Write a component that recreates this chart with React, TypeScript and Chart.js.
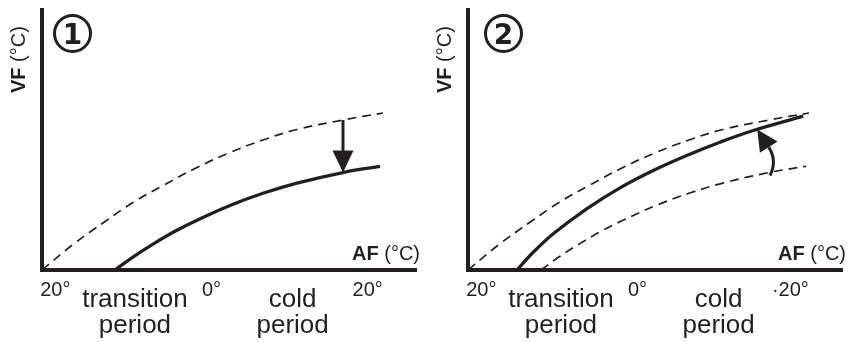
import React, { useEffect, useRef } from "react";
import { Chart, registerables } from "chart.js";

Chart.register(...registerables);

// AF = outdoor temperature (°C), VF = flow temperature (°C)
const upperCurveAF = [21.2, 17.23, 13.13, 9.55, 5.7, 1.35, -2.88, -7.1, -11.46, -17.35, -22.47];
const upperCurveVF = [20, 26.82, 32.96, 38.04, 42.59, 47.4, 51.41, 54.75, 57.56, 60.1, 61.97];

const lowerCurveAF = [11.85, 9.42, 6.98, 4.17, 1.35, -2.88, -7.1, -11.46, -17.35, -22.09];
const lowerCurveVF = [20, 23.66, 26.92, 30.34, 33.29, 37.24, 40.5, 43.23, 46.06, 47.72];

const raisedCurveAF = [14.92, 13.0, 10.28, 6.0, 1.73, -2.53, -6.81, -11.07, -15.34, -21.74];
const raisedCurveVF = [20, 24.41, 29.68, 36.36, 41.97, 46.6, 50.61, 54.16, 57.29, 61.11];

const afTicks = [20, 0, -20];
const afTickPrefixPanel1 = ["", "", ""];
const afTickPrefixPanel2 = ["", "", "·"];
const afTickDigits = ["20", "0", "20"];

const periodAF = [9.3, -10.9];
const periodLines = [
  ["transition", "period"],
  ["cold", "period"],
];

// arrow 1 (straight, down): AF, VF start -> tip
const arrow1AF = [-17.35, -17.35];
const arrow1VF = [60.1, 46.06];
// arrow 2 (curved, up): start, control, tip
const arrow2AF = [-17.48, -18.43, -15.85];
const arrow2VF = [45.26, 49.27, 57.56];

const AF_MIN = -26.7;
const AF_MAX = 21.2;
const VF_MIN = 20;
const VF_MAX = 89.5;

const INK = "#231f20";
const FONT = "Liberation Sans, Arial, sans-serif";

function xy(chart: any, af: number, vf: number) {
  return [chart.scales.x.getPixelForValue(af), chart.scales.y.getPixelForValue(vf)];
}

function drawHead(ctx: CanvasRenderingContext2D, tx: number, ty: number, dx: number, dy: number, len: number, half: number) {
  const l = Math.hypot(dx, dy);
  const ux = dx / l;
  const uy = dy / l;
  const bx = tx - ux * len;
  const by = ty - uy * len;
  ctx.beginPath();
  ctx.moveTo(tx, ty);
  ctx.lineTo(bx - uy * half, by + ux * half);
  ctx.lineTo(bx + uy * half, by - ux * half);
  ctx.closePath();
  ctx.fill();
  return [bx, by];
}

function makeDecor(panel: number) {
  return {
    id: "decor" + panel,
    afterDraw(chart: any) {
      const ctx: CanvasRenderingContext2D = chart.ctx;
      const area = chart.chartArea;
      ctx.save();
      ctx.fillStyle = INK;
      ctx.strokeStyle = INK;

      // arrows
      if (panel === 1) {
        const [x0, y0] = xy(chart, arrow1AF[0], arrow1VF[0]);
        const [x1, y1] = xy(chart, arrow1AF[1], arrow1VF[1]);
        const [bx, by] = drawHead(ctx, x1, y1, x1 - x0, y1 - y0, 22, 10.5);
        ctx.lineWidth = 3;
        ctx.beginPath();
        ctx.moveTo(x0, y0);
        ctx.lineTo(bx, by + 1);
        ctx.stroke();
      } else {
        const [x0, y0] = xy(chart, arrow2AF[0], arrow2VF[0]);
        const [cx, cy] = xy(chart, arrow2AF[1], arrow2VF[1]);
        const [x1, y1] = xy(chart, arrow2AF[2], arrow2VF[2]);
        const [bx, by] = drawHead(ctx, x1, y1, x1 - cx, y1 - cy, 21, 10.5);
        ctx.lineWidth = 3;
        ctx.beginPath();
        ctx.moveTo(x0, y0);
        ctx.quadraticCurveTo(cx, cy, bx, by);
        ctx.stroke();
      }

      // circled panel number
      const ccx = area.left + (panel === 1 ? 30.5 : 35.5);
      const ccy = area.top + 23.5;
      ctx.lineWidth = 3;
      ctx.beginPath();
      ctx.arc(ccx, ccy, 18, 0, Math.PI * 2);
      ctx.stroke();
      ctx.font = "bold 28px DejaVu Sans";
      ctx.textAlign = "center";
      ctx.textBaseline = "alphabetic";
      ctx.fillText(String(panel), ccx, ccy + 10);

      // VF axis title (rotated)
      ctx.save();
      ctx.translate(area.left - 17, area.top + 83);
      ctx.rotate(-Math.PI / 2);
      ctx.textAlign = "left";
      ctx.font = "bold 20px " + FONT;
      ctx.fillText("VF", 0, 0);
      const wv = ctx.measureText("VF").width;
      ctx.font = "20px " + FONT;
      ctx.fillText(" (°C)", wv, 0);
      ctx.restore();

      // AF axis title
      ctx.textAlign = "left";
      ctx.font = "20px " + FONT;
      const wUnit = ctx.measureText(" (°C)").width;
      ctx.font = "bold 20px " + FONT;
      const wAF = ctx.measureText("AF").width;
      const xEnd = area.right + 4;
      const yAF = area.bottom - 10;
      ctx.fillText("AF", xEnd - wUnit - wAF, yAF);
      ctx.font = "20px " + FONT;
      ctx.fillText(" (°C)", xEnd - wUnit, yAF);

      // AF tick labels
      ctx.font = "20px " + FONT;
      const prefixes = panel === 1 ? afTickPrefixPanel1 : afTickPrefixPanel2;
      afTicks.forEach((v, i) => {
        const px = chart.scales.x.getPixelForValue(v);
        const wd = ctx.measureText(afTickDigits[i]).width;
        const wp = ctx.measureText(prefixes[i]).width;
        const label = prefixes[i] + afTickDigits[i] + "°";
        ctx.fillText(label, px - wd / 2 - wp, area.bottom + 26);
      });

      // period labels
      ctx.font = "26px " + FONT;
      ctx.textAlign = "center";
      periodAF.forEach((v, i) => {
        const px = chart.scales.x.getPixelForValue(v);
        ctx.fillText(periodLines[i][0], px, area.bottom + 36.5);
        ctx.fillText(periodLines[i][1], px, area.bottom + 63);
      });

      ctx.restore();
    },
  };
}

function toPts(xs: number[], ys: number[]) {
  return xs.map((x, i) => ({ x, y: ys[i] }));
}

function Panel({ panel, left }: { panel: number; left: number }) {
  const ref = useRef<HTMLCanvasElement | null>(null);
  useEffect(() => {
    if (!ref.current) return;
    const dashed = {
      borderColor: INK,
      borderWidth: 1.7,
      borderDash: [9, 6],
      pointRadius: 0,
      tension: 0.4,
      fill: false,
    };
    const solid = {
      borderColor: INK,
      borderWidth: 3.3,
      pointRadius: 0,
      tension: 0.4,
      fill: false,
    };
    const datasets =
      panel === 1
        ? [
            { ...dashed, label: "before", data: toPts(upperCurveAF, upperCurveVF) },
            { ...solid, label: "after", data: toPts(lowerCurveAF, lowerCurveVF) },
          ]
        : [
            { ...dashed, label: "target", data: toPts(upperCurveAF, upperCurveVF) },
            { ...dashed, label: "before", data: toPts(lowerCurveAF, lowerCurveVF) },
            { ...solid, label: "after", data: toPts(raisedCurveAF, raisedCurveVF) },
          ];
    const chart = new Chart(ref.current, {
      type: "line",
      data: { datasets: datasets as any },
      options: {
        responsive: false,
        animation: false,
        layout: { padding: { left: 42, top: 10, right: 13, bottom: 72 } },
        plugins: { legend: { display: false }, tooltip: { enabled: false } },
        scales: {
          x: {
            type: "linear",
            reverse: true,
            min: AF_MIN,
            max: AF_MAX,
            grid: { display: false, drawTicks: false },
            ticks: { display: false },
            border: { display: true, width: 4, color: INK },
          },
          y: {
            type: "linear",
            min: VF_MIN,
            max: VF_MAX,
            grid: { display: false, drawTicks: false },
            ticks: { display: false },
            border: { display: true, width: 4, color: INK },
          },
        },
      },
      plugins: [makeDecor(panel)],
    });
    return () => chart.destroy();
  }, [panel]);
  return (
    <canvas
      ref={ref}
      width={429}
      height={342}
      style={{ position: "absolute", left, top: 0, display: "block" }}
    />
  );
}

export default function App() {
  return (
    <div
      style={{
        position: "absolute",
        left: 0,
        top: 0,
        width: 855,
        height: 342,
        background: "#ffffff",
        overflow: "hidden",
      }}
    >
      <Panel panel={1} left={0} />
      <Panel panel={2} left={426} />
    </div>
  );
}
